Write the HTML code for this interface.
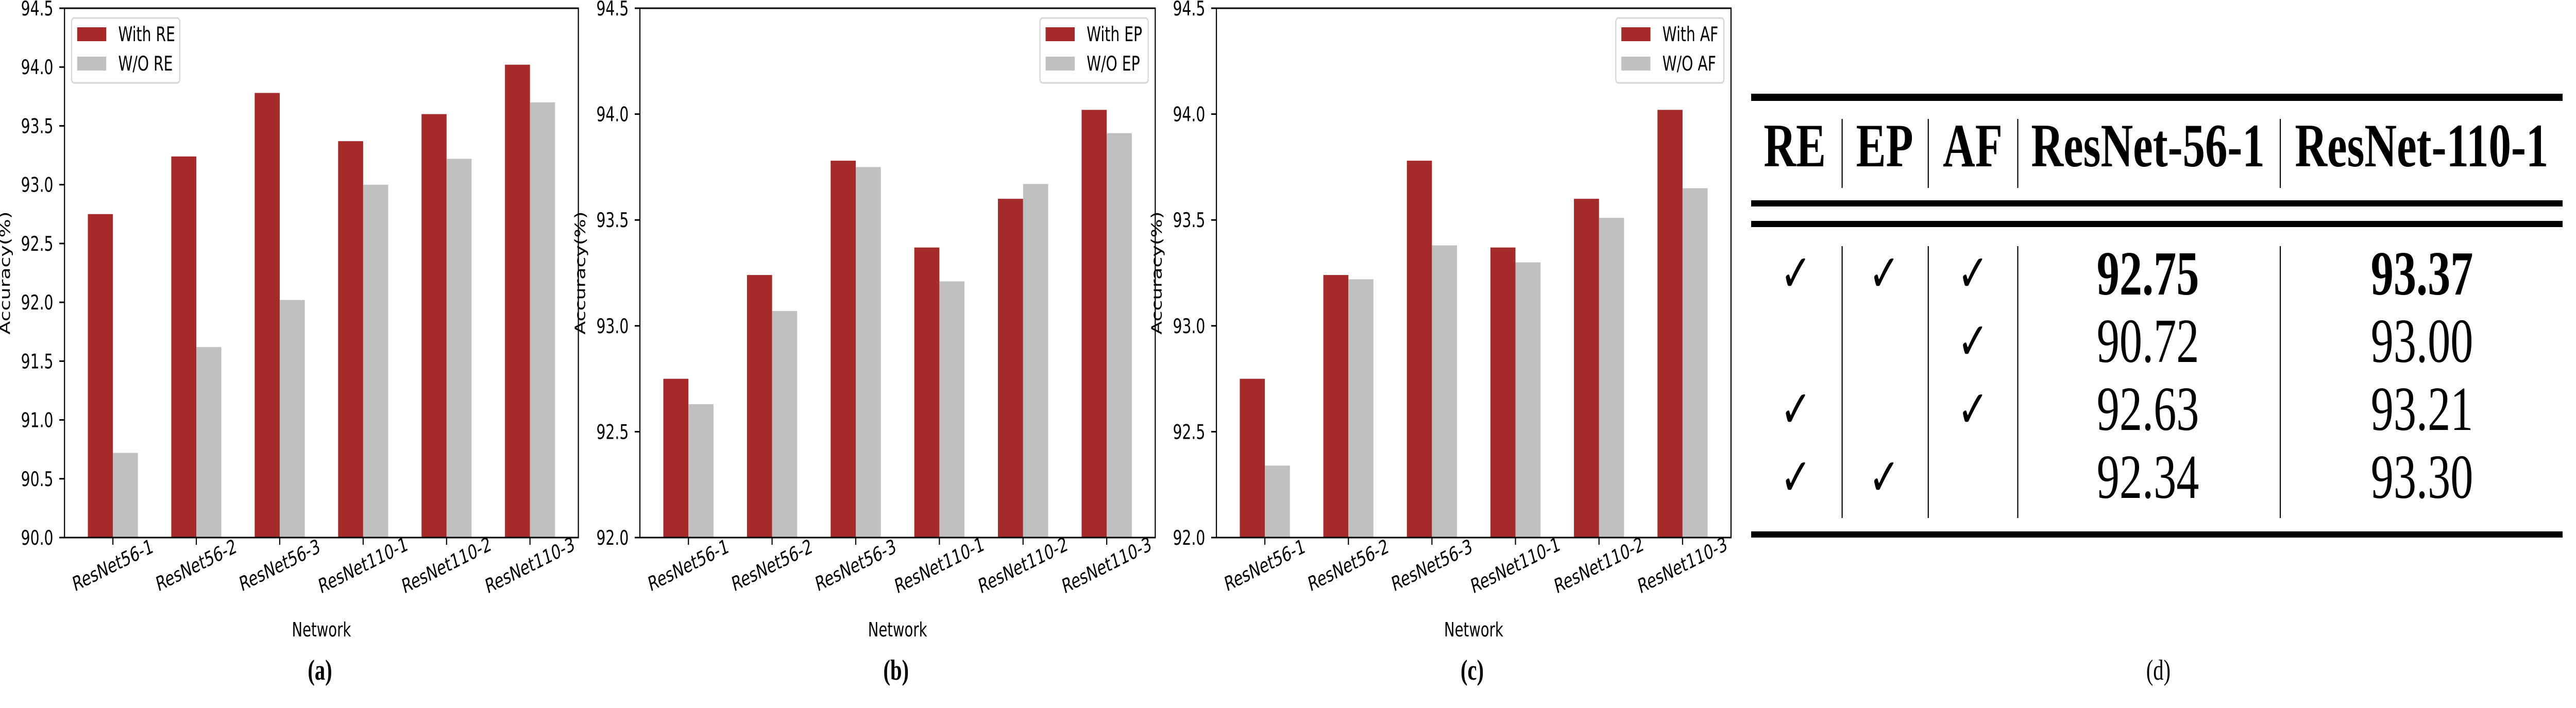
<!DOCTYPE html>
<html><head><meta charset="utf-8"><style>
html,body{margin:0;padding:0;background:#fff;width:100vw;height:100vh;overflow:hidden;}
svg{display:block;width:100vw;height:100vh;}
</style></head><body>
<svg id="fig" viewBox="0 0 6908 1375" preserveAspectRatio="none" xmlns="http://www.w3.org/2000/svg" font-family="'DejaVu Sans','Liberation Sans',sans-serif">
<g id="charts"></g>
<g id="table" font-family="'Liberation Serif',serif">
  <rect x="4696" y="182" width="2176" height="14" fill="#000"/>
  <rect x="4696" y="389" width="2176" height="12" fill="#000"/>
  <rect x="4696" y="429" width="2176" height="12" fill="#000"/>
  <rect x="4696" y="1032" width="2176" height="12" fill="#000"/>
  <g stroke="#000" stroke-width="3">
    <line x1="4940" y1="231" x2="4940" y2="365"/><line x1="5171" y1="231" x2="5171" y2="365"/>
    <line x1="5411" y1="231" x2="5411" y2="365"/><line x1="6115" y1="231" x2="6115" y2="365"/>
    <line x1="4940" y1="478" x2="4940" y2="1006"/><line x1="5171" y1="478" x2="5171" y2="1006"/>
    <line x1="5411" y1="478" x2="5411" y2="1006"/><line x1="6115" y1="478" x2="6115" y2="1006"/>
  </g>
  <g font-weight="bold" font-size="120" text-anchor="middle">
    <text x="4813" y="323">RE</text>
    <text x="5054" y="323">EP</text>
    <text x="5290" y="323">AF</text>
    <text x="5760" y="323">ResNet-56-1</text>
    <text x="6494" y="323">ResNet-110-1</text>
  </g>
  <g font-size="100" text-anchor="middle" font-family="'DejaVu Sans',sans-serif">
    <text x="4816" y="565">✓</text>
    <text x="5053" y="565">✓</text>
    <text x="5291" y="565">✓</text>
    <text x="5291" y="697">✓</text>
    <text x="4816" y="829">✓</text>
    <text x="5291" y="829">✓</text>
    <text x="4816" y="961">✓</text>
    <text x="5053" y="961">✓</text>
  </g>
  <g font-size="122" text-anchor="middle">
    <text x="5760" y="572" font-weight="bold">92.75</text>
    <text x="6495" y="572" font-weight="bold">93.37</text>
    <text x="5760" y="703">90.72</text>
    <text x="6495" y="703">93.00</text>
    <text x="5760" y="835">92.63</text>
    <text x="6495" y="835">93.21</text>
    <text x="5760" y="967">92.34</text>
    <text x="6495" y="967">93.30</text>
  </g>
  <text x="5788" y="1320" font-size="56" text-anchor="middle">(d)</text>
</g>
</svg>
<script>
const categories = ["ResNet56-1","ResNet56-2","ResNet56-3","ResNet110-1","ResNet110-2","ResNet110-3"];
const withValues = [92.75, 93.24, 93.78, 93.37, 93.60, 94.02];
const woREValues = [90.72, 91.62, 92.02, 93.00, 93.22, 93.70];
const woEPValues = [92.63, 93.07, 93.75, 93.21, 93.67, 93.91];
const woAFValues = [92.34, 93.22, 93.38, 93.30, 93.51, 93.65];
const ticksA = ["90.0","90.5","91.0","91.5","92.0","92.5","93.0","93.5","94.0","94.5"];
const ticksBC = ["92.0","92.5","93.0","93.5","94.0","94.5"];
const legendWith = ["With RE","With EP","With AF"];
const legendWO = ["W/O RE","W/O EP","W/O AF"];
const captions = ["(a)","(b)","(c)"];

const NS = "http://www.w3.org/2000/svg";
const root = document.getElementById('charts');
function mk(tag, attrs, parent){
  const e = document.createElementNS(NS, tag);
  for (const k in attrs) e.setAttribute(k, attrs[k]);
  parent.appendChild(e);
  return e;
}
const panels = [
  {left:173, right:1551, series:woREValues, ticks:ticksA, legendLeft:true, key:'a'},
  {left:1716, right:3098, series:woEPValues, ticks:ticksBC, legendLeft:false, key:'b'},
  {left:3262, right:4642, series:woAFValues, ticks:ticksBC, legendLeft:false, key:'c'}
];
const TOP = 16, BOT = 1044;
panels.forEach((p, pi) => {
  const g = mk('g', {}, root);
  
  
  const ymin = parseFloat(p.ticks[0]), ymax = parseFloat(p.ticks[p.ticks.length-1]);
  const yS = v => BOT - (v - ymin) / (ymax - ymin) * (BOT - TOP);
  const unit = (p.right - p.left) / 6.16;
  const xS = i => p.left + (i + 0.58) * unit;
  const bw = 0.3 * unit;
  categories.forEach((c, i) => {
    const r = mk('rect', {x: xS(i) - bw, y: yS(withValues[i]), width: bw, height: BOT - yS(withValues[i]), fill: '#a52a2a'}, g);
    
    
    const s = mk('rect', {x: xS(i), y: yS(p.series[i]), width: bw, height: BOT - yS(p.series[i]), fill: '#c0c0c0'}, g);
    
    
    const t = mk('line', {x1: xS(i), x2: xS(i), y1: BOT, y2: BOT + 14, stroke: '#000', 'stroke-width': 3}, g);
    
    
    const lbl = mk('text', {x: xS(i), y: 1111, 'font-size': 39, 'text-anchor': 'middle', transform: 'rotate(-20 ' + xS(i) + ' 1098)'}, g);
    lbl.textContent = c;
    
    
  });
  p.ticks.forEach(tv => {
    const y = yS(parseFloat(tv));
    const t = mk('line', {x1: p.left - 14, x2: p.left, y1: y, y2: y, stroke: '#000', 'stroke-width': 3}, g);
    
    
    const l = mk('text', {x: p.left - 30, y: y + 14, 'font-size': 39, 'text-anchor': 'end'}, g);
    l.textContent = tv;
    
    
  });
  const frame = mk('rect', {x: p.left, y: TOP, width: p.right - p.left, height: BOT - TOP, fill: 'none', stroke: '#000', 'stroke-width': 3}, g);
  
  
  const yx = p.left - 147;
  const yl = mk('text', {x: yx, y: 530, 'font-size': 38, 'text-anchor': 'middle', transform: 'rotate(-90 ' + yx + ' 530)'}, g);
  yl.textContent = 'Accuracy(%)';
  
  
  const cx = (p.left + p.right) / 2;
  const xl = mk('text', {x: cx, y: 1236, 'font-size': 38, 'text-anchor': 'middle'}, g);
  xl.textContent = 'Network';
  
  
  const cap = mk('text', {x: cx - 4, y: 1320, 'font-size': 56, 'font-weight': 'bold', 'text-anchor': 'middle', 'font-family': "'Liberation Serif',serif"}, g);
  cap.textContent = captions[pi];
  
  
  const lx = p.legendLeft ? p.left + 19 : p.right - 17 - 292;
  const lg = mk('g', {}, g);
  
  
  mk('rect', {x: lx, y: 35, width: 290, height: 126, rx: 7, fill: '#fff', stroke: '#d6d6d6', 'stroke-width': 3}, lg);
  const p1 = mk('rect', {x: lx + 15, y: 53, width: 78, height: 27, fill: '#a52a2a'}, lg);
  
  
  const p2 = mk('rect', {x: lx + 15, y: 110, width: 78, height: 27, fill: '#c0c0c0'}, lg);
  
  
  const t1 = mk('text', {x: lx + 125, y: 80, 'font-size': 39}, lg);
  t1.textContent = legendWith[pi];
  
  
  const t2 = mk('text', {x: lx + 125, y: 137, 'font-size': 39}, lg);
  t2.textContent = legendWO[pi];
  
  
});
</script>
</body></html>
